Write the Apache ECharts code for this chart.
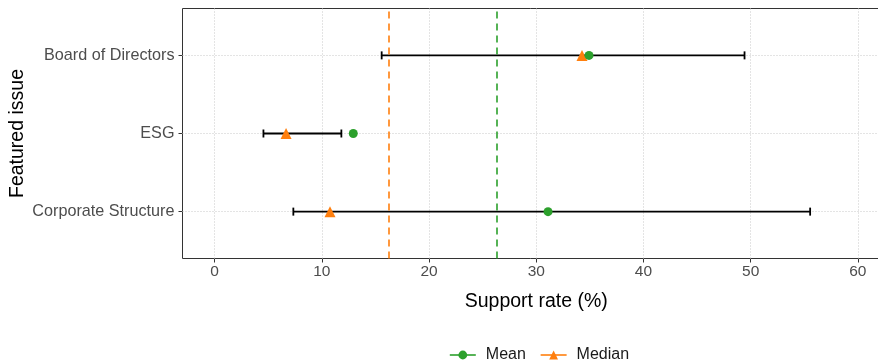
<!DOCTYPE html>
<html>
<head>
<meta charset="utf-8">
<script src="https://cdn.jsdelivr.net/npm/echarts@6/dist/echarts.min.js"></script>
<style>
html,body{margin:0;padding:0;background:#fff;}
#chart{width:878px;height:360px;}
</style>
</head>
<body>
<div id="chart"></div>
<script>
// Categories (bottom to top)
const categories = ['Corporate Structure', 'ESG', 'Board of Directors'];
const meanValues = [31.1, 12.93, 34.92];
const medianValues = [10.76, 6.66, 34.27];
const lowValues = [7.34, 4.55, 15.58];
const highValues = [55.55, 11.82, 49.43];
const overallMedian = 16.26;
const overallMean = 26.32;
const xTicks = [0, 10, 20, 30, 40, 50, 60];
const yTicks = [1, 2, 3];

const FONT = '"Liberation Sans", Arial, Helvetica, sans-serif';
const GREEN = '#2CA02C';
const ORANGE = '#FF7F0E';

const chart = echarts.init(document.getElementById('chart'), null, {renderer: 'canvas'});

const barData = categories.map((c, i) => [lowValues[i], highValues[i], i + 1]);
const meanData = categories.map((c, i) => [meanValues[i], i + 1]);
const medianData = categories.map((c, i) => [medianValues[i], i + 1]);

const option = {
  animation: false,
  backgroundColor: '#fff',
  grid: {
    left: 182.5, right: -12, top: 8.5, bottom: 101.5,
    show: true, borderColor: '#333333', borderWidth: 1, backgroundColor: 'transparent',
    containLabel: false, outerBoundsMode: 'none'
  },
  legend: {
    data: ['Mean', 'Median'],
    left: 444, top: 342,
    itemWidth: 26, itemHeight: 11, itemGap: 14,
    lineStyle: {opacity: 1, width: 1.6},
    textStyle: {fontFamily: FONT, fontSize: 16, color: '#1a1a1a', padding: [0, 0, 0, 5]}
  },
  xAxis: {
    type: 'value', min: -3, max: 63,
    name: 'Support rate (%)', nameLocation: 'middle', nameGap: 33,
    nameTextStyle: {fontFamily: FONT, fontSize: 19.5, color: '#000'},
    axisLine: {show: false, onZero: false},
    axisTick: {show: true, length: 4, lineStyle: {color: '#333333', width: 1}, customValues: xTicks},
    axisLabel: {fontFamily: FONT, fontSize: 15.5, color: '#4D4D4D', margin: 5, customValues: xTicks},
    splitLine: {show: false}
  },
  yAxis: {
    type: 'value', min: 0.4, max: 3.6,
    name: 'Featured issue', nameLocation: 'middle', nameGap: 155, nameRotate: 90,
    nameMoveOverlap: false,
    nameTextStyle: {fontFamily: FONT, fontSize: 19.5, color: '#000'},
    axisLine: {show: false, onZero: false},
    axisTick: {show: true, length: 4, lineStyle: {color: '#333333', width: 1}, customValues: yTicks},
    axisLabel: {fontFamily: FONT, fontSize: 16.2, color: '#4D4D4D', margin: 8, customValues: yTicks,
      formatter: v => categories[Math.round(v) - 1] || ''},
    splitLine: {show: false}
  },
  series: [
    {
      name: 'grid',
      type: 'line', data: [], silent: true, z: 1,
      markLine: {
        silent: true, symbol: 'none', label: {show: false}, animation: false, z: 1,
        lineStyle: {color: '#C8C8C8', type: [1, 2], width: 1},
        data: xTicks.map(v => ({xAxis: v})).concat(yTicks.map(v => ({yAxis: v})))
      }
    },
    {
      name: 'errorbar',
      type: 'custom', z: 3,
      data: barData,
      encode: {x: [0, 1], y: 2},
      renderItem: function (params, api) {
        const y = api.value(2);
        const p1 = api.coord([api.value(0), y]);
        const p2 = api.coord([api.value(1), y]);
        const h = 4;
        const style = {stroke: '#000', lineWidth: 1.8};
        return {
          type: 'group',
          children: [
            {type: 'line', shape: {x1: p1[0], y1: p1[1], x2: p2[0], y2: p2[1]}, style: style},
            {type: 'line', shape: {x1: p1[0], y1: p1[1] - h, x2: p1[0], y2: p1[1] + h}, style: style},
            {type: 'line', shape: {x1: p2[0], y1: p2[1] - h, x2: p2[0], y2: p2[1] + h}, style: style}
          ]
        };
      },
      markLine: {
        silent: true, symbol: 'none', label: {show: false}, animation: false, z: 4,
        data: [
          {xAxis: overallMedian, lineStyle: {color: ORANGE, type: [7, 5], width: 1.6}},
          {xAxis: overallMean, lineStyle: {color: GREEN, type: [7, 5], width: 1.6}}
        ]
      }
    },
    {
      name: 'Median',
      type: 'line', z: 5,
      data: medianData,
      symbol: 'triangle', symbolSize: 11, showSymbol: true,
      itemStyle: {color: ORANGE},
      lineStyle: {color: ORANGE, opacity: 0, width: 0}
    },
    {
      name: 'Mean',
      type: 'line', z: 6,
      data: meanData,
      symbol: 'circle', symbolSize: 9, showSymbol: true,
      itemStyle: {color: GREEN},
      lineStyle: {color: GREEN, opacity: 0, width: 0}
    }
  ]
};
chart.setOption(option);
</script>
</body>
</html>
